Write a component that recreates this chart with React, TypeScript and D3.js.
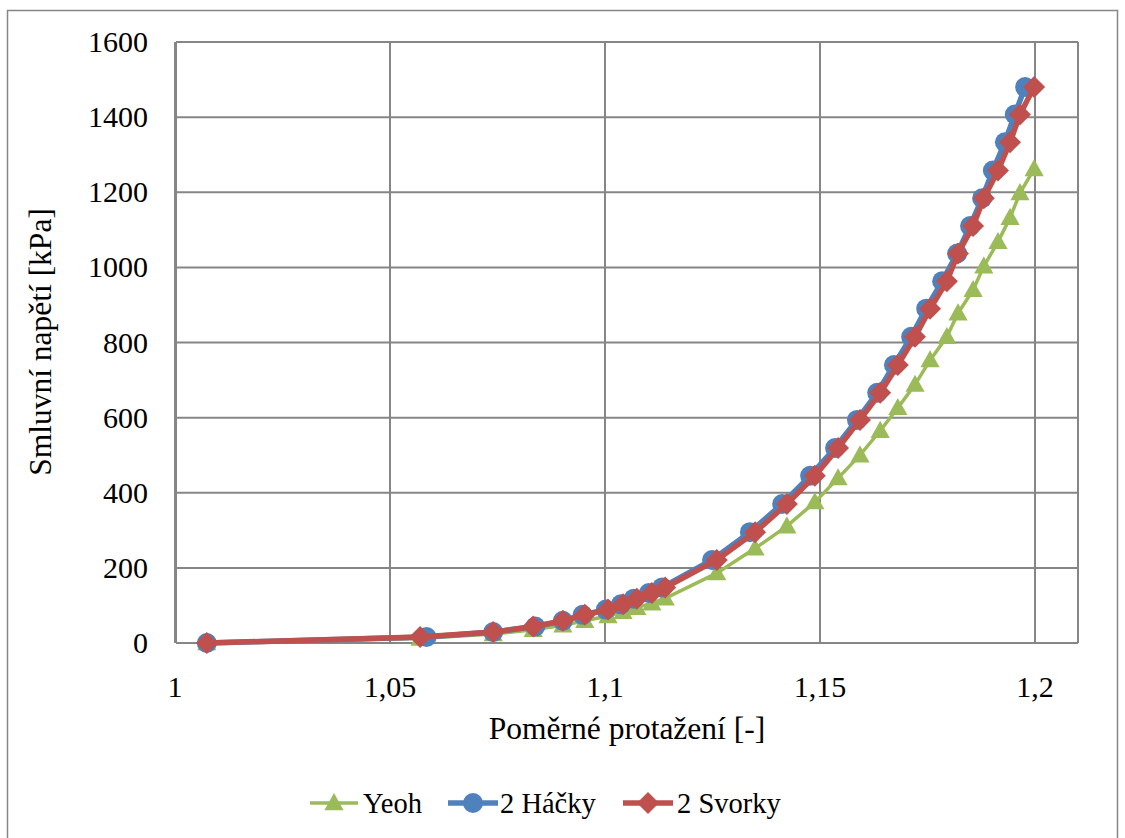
import React from "react";
import * as d3 from "d3";

const svorkyX = [1.0074, 1.057, 1.074, 1.0833, 1.0902, 1.0953, 1.1007, 1.1042, 1.1074, 1.1109, 1.114, 1.126, 1.1349, 1.1423, 1.1488, 1.1542, 1.1593, 1.164, 1.1681, 1.1721, 1.1756, 1.1795, 1.1821, 1.1856, 1.1881, 1.1914, 1.1942, 1.1965, 1.1998];
const stressY = [0, 16, 29, 44, 59, 75, 89, 103, 118, 133, 148, 221, 295, 370, 445, 519, 594, 666, 740, 815, 890, 963, 1037, 1110, 1184, 1258, 1333, 1407, 1480];
const hackyX = [1.0074, 1.0585, 1.074, 1.0838, 1.0902, 1.0948, 1.1002, 1.1037, 1.1067, 1.1102, 1.1133, 1.1249, 1.1337, 1.1412, 1.1477, 1.1535, 1.1586, 1.1633, 1.1672, 1.1712, 1.1747, 1.1784, 1.1819, 1.1849, 1.1877, 1.1902, 1.193, 1.1953, 1.1977];
const yeohY = [0, 12, 24, 35, 47, 59, 72, 83, 94, 106, 119, 186, 252, 311, 375, 439, 500, 565, 626, 688, 753, 815, 878, 940, 1003, 1068, 1132, 1198, 1262];

const xTicks = [1, 1.05, 1.1, 1.15, 1.2];
const yTicks = [0, 200, 400, 600, 800, 1000, 1200, 1400, 1600];

const GREEN = "#9BBB59";
const BLUE = "#4F81BD";
const RED = "#C0504D";
const GRID = "#868686";
const FONT = "Liberation Serif";

export default function App() {
  const W = 1125, H = 838;
  const left = 176, right = 1078, top = 42, bottom = 643;
  const x = d3.scaleLinear().domain([1, 1.2]).range([175, 1035]);
  const y = d3.scaleLinear().domain([0, 1600]).range([bottom, top]);

  const fmt = (v: number) => (v === 1 ? "1" : String(+v.toFixed(2)).replace(".", ","));

  const line = d3.line<[number, number]>().x(d => x(d[0])).y(d => y(d[1]));
  const yeoh: [number, number][] = svorkyX.map((v, i) => [v, yeohY[i]]);
  const hacky: [number, number][] = hackyX.map((v, i) => [v, stressY[i]]);
  const svorky: [number, number][] = svorkyX.map((v, i) => [v, stressY[i]]);

  const tri = (cx: number, cy: number, s: number) =>
    `M${cx},${cy - s * 0.62} L${cx + s * 0.6},${cy + s * 0.45} L${cx - s * 0.6},${cy + s * 0.45} Z`;
  const dia = (cx: number, cy: number, s: number) =>
    `M${cx},${cy - s} L${cx + s},${cy} L${cx},${cy + s} L${cx - s},${cy} Z`;

  const ts = { fontFamily: FONT, fontSize: 30, fill: "#000" } as React.CSSProperties;
  const tt = { fontFamily: FONT, fontSize: 31.5, fill: "#000" } as React.CSSProperties;
  const tl = { fontFamily: FONT, fontSize: 28.5, fill: "#000" } as React.CSSProperties;

  return (
    <svg width={W} height={H} style={{ position: "absolute", left: 0, top: 0, background: "#fff" }}>
      <rect x={7.5} y={10.5} width={1110} height={840} fill="#fff" stroke={GRID} strokeWidth={1.5} />
      {yTicks.map(t => (
        <line key={"gy" + t} x1={left} x2={right} y1={y(t)} y2={y(t)} stroke={GRID} strokeWidth={2} />
      ))}
      {xTicks.map(t => (
        <line key={"gx" + t} x1={x(t)} x2={x(t)} y1={top} y2={bottom} stroke={GRID} strokeWidth={2} />
      ))}
      <line x1={right} x2={right} y1={top} y2={bottom} stroke={GRID} strokeWidth={2} />
      <line x1={left} x2={left} y1={top} y2={bottom} stroke={GRID} strokeWidth={2} />
      {yTicks.map(t => (
        <text key={"ty" + t} x={148} y={y(t) + 10} textAnchor="end" style={ts}>{t}</text>
      ))}
      {xTicks.map(t => (
        <text key={"tx" + t} x={x(t)} y={697} textAnchor="middle" style={ts}>{fmt(t)}</text>
      ))}
      <text x={627} y={739} textAnchor="middle" style={tt}>Poměrné protažení [-]</text>
      <text transform={`translate(51,342) rotate(-90)`} textAnchor="middle" style={tt}>Smluvní napětí [kPa]</text>

      <path d={line(yeoh) || ""} fill="none" stroke={GREEN} strokeWidth={3.5} />
      {yeoh.map((d, i) => (
        <path key={"yt" + i} d={tri(x(d[0]), y(d[1]), 16)} fill={GREEN} />
      ))}
      <path d={line(hacky) || ""} fill="none" stroke={BLUE} strokeWidth={5.5} />
      {hacky.map((d, i) => (
        <circle key={"hc" + i} cx={x(d[0])} cy={y(d[1])} r={10} fill={BLUE} />
      ))}
      <path d={line(svorky) || ""} fill="none" stroke={RED} strokeWidth={5.5} />
      {svorky.map((d, i) => (
        <path key={"sd" + i} d={dia(x(d[0]), y(d[1]), 11)} fill={RED} />
      ))}

      <line x1={310} x2={358} y1={803} y2={803} stroke={GREEN} strokeWidth={3.5} />
      <path d={tri(334, 803, 16)} fill={GREEN} />
      <text x={363} y={813} style={tl}>Yeoh</text>
      <line x1={448} x2={498} y1={803} y2={803} stroke={BLUE} strokeWidth={5.5} />
      <circle cx={473} cy={803} r={10} fill={BLUE} />
      <text x={500} y={813} style={tl}>2 Háčky</text>
      <line x1={623} x2={673} y1={803} y2={803} stroke={RED} strokeWidth={5.5} />
      <path d={dia(648, 803, 11)} fill={RED} />
      <text x={677} y={813} style={tl}>2 Svorky</text>
    </svg>
  );
}
